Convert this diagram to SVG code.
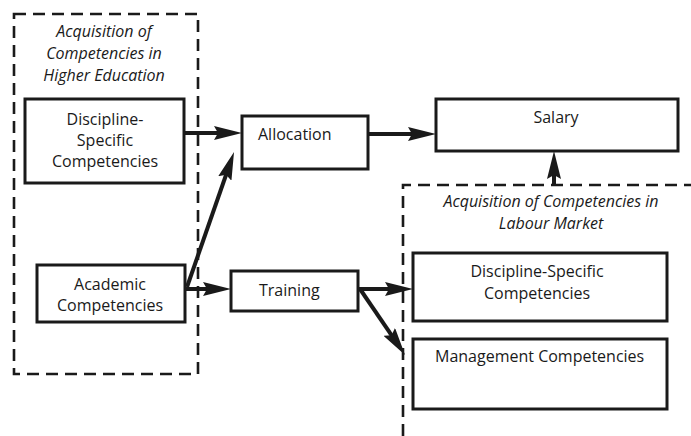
<svg xmlns="http://www.w3.org/2000/svg" width="691" height="436" viewBox="0 0 691 436">
<defs>
<style>
.box{fill:#fff;stroke:#1a1a1a;stroke-width:3}
.dash{fill:none;stroke:#1a1a1a;stroke-width:2.6;stroke-dasharray:12 7}
.t{font-family:"Open Sans","Liberation Sans",sans-serif;font-size:16px;fill:#1a1a1a}
.c{text-anchor:middle}
.i{font-style:italic;font-size:16px}
.conn line{stroke:#1a1a1a;stroke-width:4;marker-end:url(#ah)}
</style>
<marker id="ah" markerWidth="30" markerHeight="14" refX="10" refY="7" orient="auto" markerUnits="userSpaceOnUse">
<path d="M0,0 L28,7 L0,14 L4,7 z" fill="#1a1a1a"/>
</marker>
</defs>
<rect width="691" height="436" fill="#fff"/>
<g id="higher-education">
<rect class="dash" x="14" y="14" width="184" height="360"/>
<text class="t c i" x="104" y="37">Acquisition of</text>
<text class="t c i" x="104" y="59">Competencies in</text>
<text class="t c i" x="104" y="81">Higher Education</text>
</g>
<g id="labour-market">
<path class="dash" d="M403,436 L403,185 L691,185"/>
<text class="t c i" x="551" y="207">Acquisition of Competencies in</text>
<text class="t c i" x="551" y="229">Labour Market</text>
</g>
<g id="discipline-specific-he">
<rect class="box" x="25" y="99" width="159" height="84"/>
<text class="t c" x="105" y="125">Discipline-</text>
<text class="t c" x="105" y="146">Specific</text>
<text class="t c" x="105" y="167">Competencies</text>
</g>
<g id="academic">
<rect class="box" x="37" y="265" width="148" height="57"/>
<text class="t c" x="110" y="290">Academic</text>
<text class="t c" x="110" y="311">Competencies</text>
</g>
<g id="allocation">
<rect class="box" x="242" y="116" width="126" height="53"/>
<text class="t" x="258" y="140">Allocation</text>
</g>
<g id="training">
<rect class="box" x="231" y="271" width="127" height="40"/>
<text class="t" x="259" y="296">Training</text>
</g>
<g id="salary">
<rect class="box" x="436" y="99" width="242" height="52"/>
<text class="t c" x="556" y="123">Salary</text>
</g>
<g id="discipline-specific-lm">
<rect class="box" x="413" y="253" width="254" height="68"/>
<text class="t c" x="537" y="277">Discipline-Specific</text>
<text class="t c" x="537" y="299">Competencies</text>
</g>
<g id="management">
<rect class="box" x="413" y="339" width="254" height="70"/>
<text class="t" x="435" y="362">Management Competencies</text>
</g>
<g id="connectors" class="conn">
<line x1="184" y1="133" x2="224" y2="133"/>
<line x1="368" y1="134" x2="418" y2="134"/>
<line x1="185" y1="289" x2="213" y2="289"/>
<line x1="187" y1="287" x2="228.1" y2="169"/>
<line x1="554" y1="185" x2="554" y2="169"/>
<line x1="358" y1="289" x2="395" y2="289"/>
<line x1="360" y1="289" x2="394.9" y2="340.1"/>
</g>
</svg>
